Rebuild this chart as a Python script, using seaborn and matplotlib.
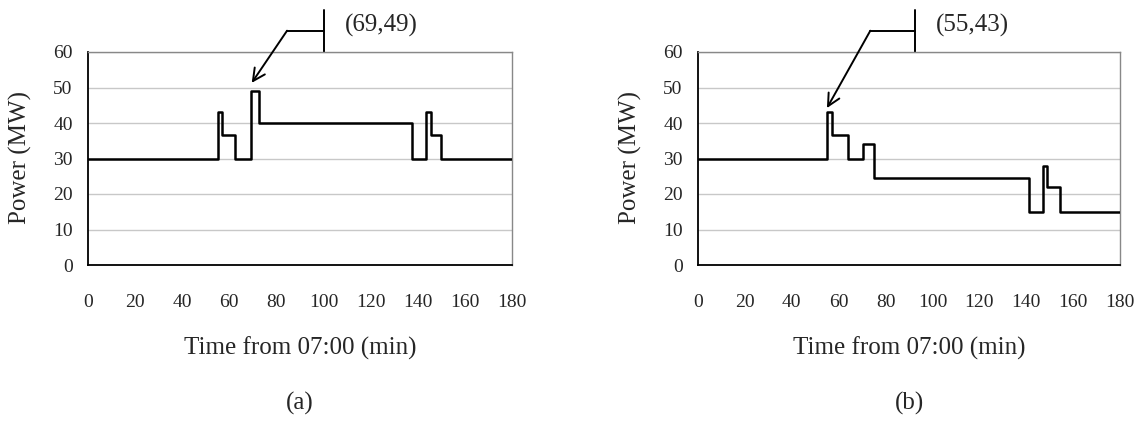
import matplotlib.pyplot as plt
import pandas as pd
import seaborn as sns

# step profiles (minutes from 07:00, MW)
time_a = [0, 55, 57, 62.5, 69, 72.5, 137.5, 143.5, 145.5, 150, 180]
power_a = [30, 43, 36.5, 30, 49, 40, 30, 43, 36.5, 30, 30]

time_b = [0, 55, 57, 64, 70.5, 75, 141, 147, 149, 154.5, 180]
power_b = [30, 43, 36.5, 30, 34, 24.5, 15, 28, 22, 15, 15]

x_ticks = [0, 20, 40, 60, 80, 100, 120, 140, 160, 180]
y_ticks = [0, 10, 20, 30, 40, 50, 60]

peak_labels = ["(69,49)", "(55,43)"]
peak_points = [(69.5, 51.3), (55, 44.2)]
callout_bars = [(100, 84.5), (92.5, 73.5)]
panel_labels = ["(a)", "(b)"]

sns.set_theme(style="white")
plt.rcParams["font.family"] = ["Liberation Serif", "DejaVu Serif"]

W, H = 1141, 421
fig = plt.figure(figsize=(W / 100, H / 100), dpi=100)

boxes = [(88, 512), (698, 1120)]
top, bottom = 52, 265
panels = [(time_a, power_a), (time_b, power_b)]

for i, ((t, p), (x0, x1)) in enumerate(zip(panels, boxes)):
    ax = fig.add_axes([x0 / W, 1 - bottom / H, (x1 - x0) / W, (bottom - top) / H])
    df = pd.DataFrame({"time": t, "power": p})
    sns.lineplot(data=df, x="time", y="power", drawstyle="steps-post",
                 color="black", linewidth=1.8, ax=ax, zorder=3)
    ax.set_xlim(0, 180)
    ax.set_ylim(0, 60)
    ax.set_xticks(x_ticks)
    ax.set_yticks(y_ticks)
    ax.yaxis.grid(True, color="#c8c8c8", linewidth=1)
    ax.xaxis.grid(False)
    for side in ["left", "bottom"]:
        ax.spines[side].set_color("black")
        ax.spines[side].set_linewidth(1.3)
    for side in ["top", "right"]:
        ax.spines[side].set_color("#888888")
        ax.spines[side].set_linewidth(1)
    ax.tick_params(axis="both", direction="in", length=5, width=1, color="black",
                   labelsize=14)
    ax.tick_params(axis="x", pad=21)
    ax.tick_params(axis="y", pad=11)
    ax.set_xlabel("")
    ax.set_ylabel("")

    # callout: vertical bar, horizontal leader, arrow to the peak
    bx, hx = callout_bars[i]
    ax.plot([bx, bx], [60, 71.8], color="black", lw=1.4, clip_on=False)
    ax.plot([bx, hx], [66, 66], color="black", lw=1.4, clip_on=False)
    ax.annotate("", xy=peak_points[i], xytext=(hx, 66),
                arrowprops=dict(arrowstyle="->", color="black", lw=1.4,
                                mutation_scale=22, shrinkA=0, shrinkB=0),
                annotation_clip=False)
    ax.text(bx + 9, 67.6, peak_labels[i], fontsize=18, ha="left", va="center")

    cx = (x0 + x1) / 2 / W
    fig.text(cx, 1 - 348 / H, "Time from 07:00 (min)", fontsize=18,
             ha="center", va="center")
    fig.text((x0 - 68) / W, 1 - 158 / H, "Power (MW)", fontsize=18,
             rotation=90, ha="center", va="center")
    fig.text(cx, 1 - 403 / H, panel_labels[i], fontsize=18,
             ha="center", va="center")

fig.savefig("out.png", dpi=100)
